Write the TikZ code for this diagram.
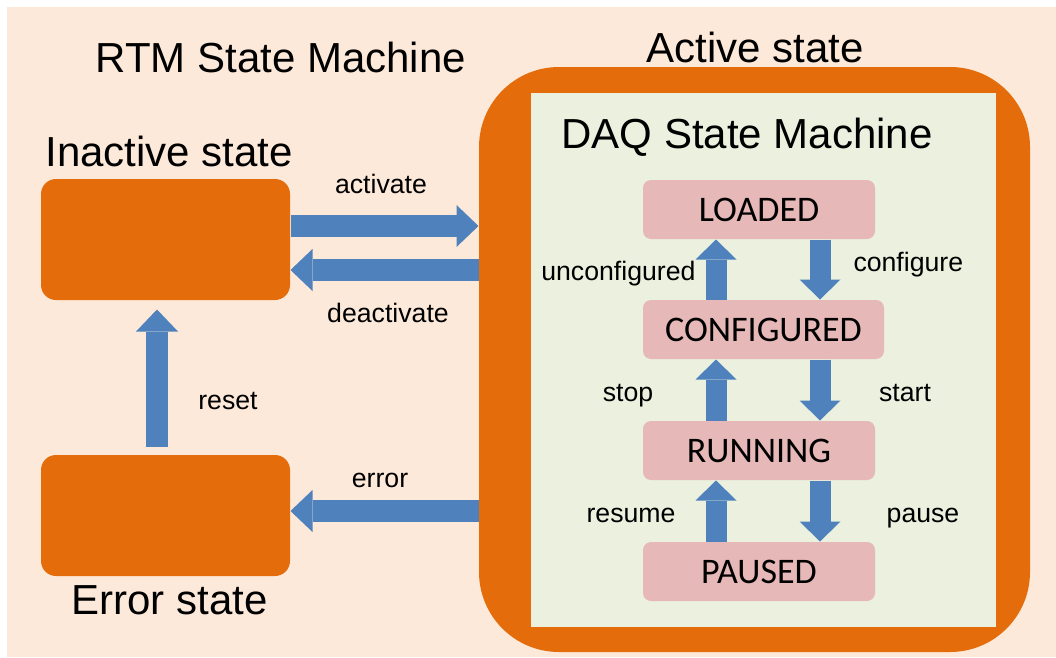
\documentclass[tikz,border=0pt]{standalone}
\usepackage{fontspec}
\setmainfont{Liberation Sans}
\newfontfamily\statefont{Carlito}
\usetikzlibrary{arrows.meta}

\definecolor{peach}{RGB}{253,233,217}
\definecolor{orangebox}{RGB}{228,108,10}
\definecolor{daqgreen}{RGB}{235,241,222}
\definecolor{statepink}{RGB}{230,185,184}
\definecolor{arrowblue}{RGB}{79,129,189}

\tikzset{
	rtmbox/.style={fill=orangebox, draw=none, rounded corners=11.25pt, inner sep=0pt,
		minimum width=186.75pt, minimum height=90.75pt},
	statebox/.style={fill=statepink, draw=none, rounded corners=6pt, inner sep=0pt,
		minimum width=174pt, minimum height=44.25pt, font=\statefont\fontsize{27}{32}\selectfont},
	title/.style={anchor=base west, inner sep=0pt, font=\fontsize{31.5}{38}\selectfont},
	trans/.style={anchor=base, inner sep=0pt, font=\fontsize{20}{24}\selectfont},
	bigarrow/.style={draw=arrowblue, line width=16.5pt,
		-{Triangle[length=16.5pt,width=31.5pt,line width=0pt]}},
	smallarrow/.style={draw=arrowblue, line width=15.75pt,
		-{Triangle[length=15pt,width=30.75pt,line width=0pt]}}}
\tikzset{every picture/.style={line width=0.75pt}}

\begin{document}
\begin{tikzpicture}[x=0.75pt,y=0.75pt,yscale=-1,xscale=1]
	\useasboundingbox (0,0) rectangle (1056,657);

	%Shape: Rectangle [background]
	\fill [peach] (7,7) rectangle (1056,657);

	%Shape: Rounded Rectangle [RTM states]
	\node [rtmbox] (inactive) at (165.5,239.5) {};
	\node [rtmbox] (error) at (165.5,515.5) {};
	\node [rtmbox, rounded corners=60pt, minimum width=413.25pt, minimum height=438.75pt] (active) at (754.5,359.5) {};
	%Shape: Rectangle [DAQ area]
	\node [fill=daqgreen, inner sep=0pt, minimum width=348.75pt, minimum height=400.5pt] (daq) at (763.5,360) {};

	%Shape: Rounded Rectangle [DAQ states]
	\node [statebox] (loaded) at (759,209.5) {LOADED};
	\node [statebox, minimum width=180.75pt] (configured) at (763.5,329.5) {CONFIGURED};
	\node [statebox] (running) at (759,450.5) {RUNNING};
	\node [statebox] (paused) at (759,571.5) {PAUSED};

	%Straight Lines [RTM transitions]
	\draw [bigarrow] (inactive.east |- 0,226) -- (active.west |- 0,226) ;
	\draw [bigarrow] (active.west |- 0,270) -- (inactive.east |- 0,270) ;
	\draw [bigarrow] (active.west |- 0,511) -- (error.east |- 0,511) ;
	\draw [bigarrow, shorten <=6pt, shorten >=6.75pt] (error.north -| 157,0) -- (inactive.south -| 157,0) ;

	%Straight Lines [DAQ transitions]
	\draw [smallarrow] (loaded.south -| 820,0) -- (configured.north -| 820,0) ;
	\draw [smallarrow] (configured.north -| 716,0) -- (loaded.south -| 716,0) ;
	\draw [smallarrow] (configured.south -| 820,0) -- (running.north -| 820,0) ;
	\draw [smallarrow] (running.north -| 716,0) -- (configured.south -| 716,0) ;
	\draw [smallarrow] (running.south -| 820,0) -- (paused.north -| 820,0) ;
	\draw [smallarrow] (paused.north -| 716,0) -- (running.south -| 716,0) ;

	% Text Node
	\node [title] (rtmtitle) at (95,72) {RTM State Machine};
	% Text Node
	\node [title] (inactivetitle) at (45,166) {Inactive state};
	% Text Node
	\node [title] (errortitle) at (71,614) {Error state};
	% Text Node
	\node [title] (activetitle) at (646,62) {Active state};
	% Text Node
	\node [title] (daqtitle) at (561,148) {DAQ State Machine};

	% Text Node
	\node [trans] (activatelbl) at (381,193) {activate};
	\node [trans] (deactivatelbl) at (388,322) {deactivate};
	\node [trans] (resetlbl) at (228,409) {reset};
	\node [trans] (errorlbl) at (380,487) {error};
	% Text Node
	\node [trans, anchor=base east] (unconfiguredlbl) at (696,280) {unconfigured};
	\node [trans, anchor=base west] (configurelbl) at (853,271) {configure};
	\node [trans] (stoplbl) at (628,401) {stop};
	\node [trans] (startlbl) at (905,401) {start};
	\node [trans] (resumelbl) at (631,522) {resume};
	\node [trans] (pauselbl) at (923,522) {pause};

\end{tikzpicture}
\end{document}
